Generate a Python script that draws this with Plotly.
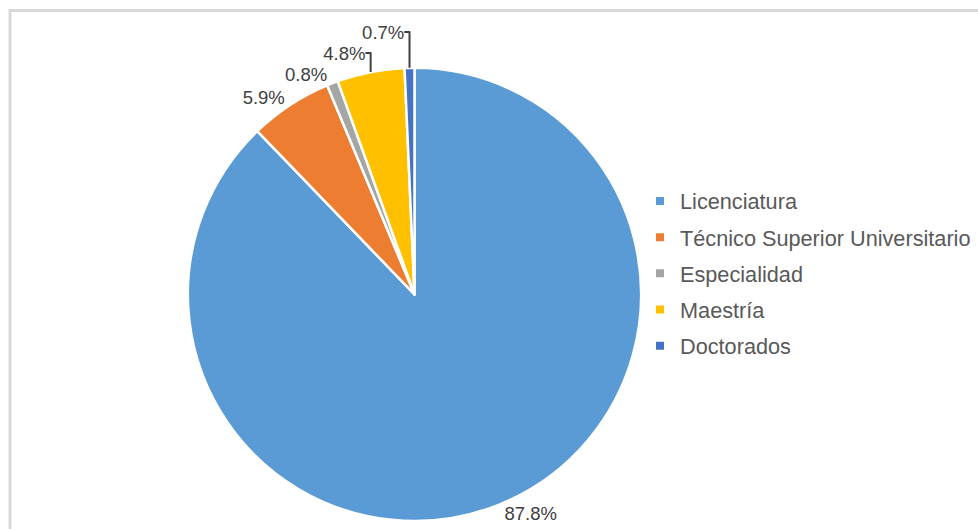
import plotly.graph_objects as go

categories = ["Licenciatura", "Técnico Superior Universitario", "Especialidad", "Maestría", "Doctorados"]
values = [87.8, 5.9, 0.8, 4.8, 0.7]
colors = ["#5B9BD5", "#ED7D31", "#A5A5A5", "#FFC000", "#4472C4"]

W, H = 978, 529
FONT = "Liberation Sans, Arial"
fig = go.Figure()
fig.add_trace(go.Pie(
    labels=categories, values=values, sort=False,
    direction="clockwise", rotation=0,
    marker=dict(colors=colors, line=dict(color="white", width=2.5)),
    texttemplate="%{value:.1f}%", textposition="outside",
    textfont=dict(family=FONT, size=18.5, color="#404040"),
    showlegend=False, hoverinfo="label+value",
    domain=dict(x=[187 / W, 642 / W], y=[6 / H, 461 / H]),
))
for i, (c, col) in enumerate(zip(categories, colors)):
    fig.add_trace(go.Scatter(
        x=[None], y=[None], mode="markers", name=c,
        marker=dict(symbol="square", size=8, color=col),
        legendgroup=f"g{i}", showlegend=True,
    ))

fig.update_layout(
    width=W, height=H,
    margin=dict(l=0, r=0, t=0, b=0),
    paper_bgcolor="white", plot_bgcolor="white",
    xaxis=dict(visible=False), yaxis=dict(visible=False),
    legend=dict(x=640 / W, y=1 - 181 / H, xanchor="left", yanchor="top",
                font=dict(family=FONT, size=21.7, color="#595959"),
                tracegroupgap=5, itemwidth=30, bgcolor="rgba(0,0,0,0)"),
    shapes=[dict(type="rect", xref="paper", yref="paper",
                 x0=10 / W, x1=1.02, y0=-0.02, y1=1 - 10.5 / H,
                 line=dict(color="#D9D9D9", width=3), layer="below")],
)
fig.write_html("out.html", config={"displayModeBar": False})

with open("out.html", encoding="utf-8") as f:
    html = f.read()
html = html.replace("<head>", "<head><style>html,body{margin:0;padding:0;overflow:hidden}</style>", 1)
with open("out.html", "w", encoding="utf-8") as f:
    f.write(html)
